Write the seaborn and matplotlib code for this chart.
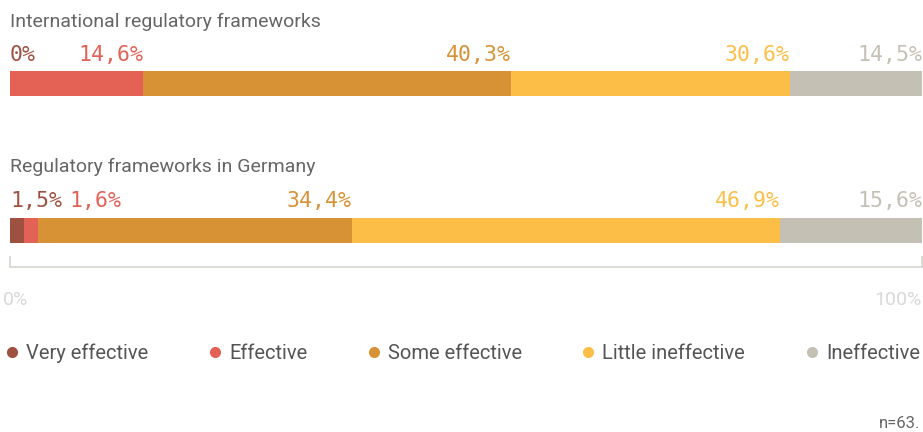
import matplotlib
matplotlib.use("Agg")
import matplotlib.pyplot as plt
from matplotlib.lines import Line2D
import matplotlib.transforms as mtransforms
import seaborn as sns
import pandas as pd
import numpy as np

groups = ["International regulatory frameworks", "Regulatory frameworks in Germany"]
levels = ["Very effective", "Effective", "Some effective", "Little ineffective", "Ineffective"]
intl_values = [0.0, 14.6, 40.3, 30.6, 14.5]
germany_values = [1.5, 1.6, 34.4, 46.9, 15.6]
value_labels = [["0%", "14,6%", "40,3%", "30,6%", "14,5%"],
                ["1,5%", "1,6%", "34,4%", "46,9%", "15,6%"]]
colors = ["#9E5140", "#E46156", "#D89236", "#FDBE48", "#C4C1B4"]
x_ticks = [0, 100]
x_ticklabels = ["0%", "100%"]
note = "n=63."

sns.set_theme(style="white")
plt.rcParams['font.family'] = ['Roboto', 'DejaVu Sans']

W, H, DPI = 923, 432, 100
fig = plt.figure(figsize=(W / DPI, H / DPI), dpi=DPI)

def px(x0, y0, x1, y1):
    return [x0 / W, 1 - y1 / H, (x1 - x0) / W, (y1 - y0) / H]

ax = fig.add_axes(px(10, 60, 922, 267))

values = np.array([intl_values, germany_values])
cum = np.cumsum(values, axis=1)
df = pd.DataFrame(cum, columns=levels)
df["group"] = groups

# draw cumulative totals, largest first so smaller ones overlay on the left
for i in range(len(levels) - 1, -1, -1):
    sns.barplot(data=df, x=levels[i], y="group", orient="h", color=colors[i],
                width=0.17, linewidth=0, saturation=1, ax=ax)

ax.set_xlim(0, 100)
ax.set_ylim(1.248, -0.16)
ax.set_xlabel("")
ax.set_ylabel("")
ax.set_yticks([])
for s in ["top", "left", "right"]:
    ax.spines[s].set_visible(False)
ax.spines["bottom"].set_color("#D6D4CD")
ax.spines["bottom"].set_linewidth(1.2)
ax.set_xticks(x_ticks)
ax.set_xticklabels(x_ticklabels)
ax.tick_params(axis="x", bottom=True, direction="in", length=8, width=1.2, color="#D6D4CD",
               pad=17, labelsize=14, labelcolor="#D9D9D9")
tl = ax.get_xticklabels()
tl[0].set_ha("left")
tl[-1].set_ha("right")
tl[0].set_transform(tl[0].get_transform() + mtransforms.ScaledTranslation(-7 / DPI, 0, fig.dpi_scale_trans))

# titles
title_baselines = [27, 172]
for g, yb in zip(groups, title_baselines):
    fig.text(10 / W, 1 - yb / H, g, fontsize=14, color="#666666", va="baseline", ha="left")

# value labels
fig.canvas.draw()
renderer = fig.canvas.get_renderer()
gap = 7
label_baselines = [61, 207]
axleft = ax.transData.transform((0, 0))[0]
for r in range(2):
    prev_right = axleft - gap
    for i in range(len(levels)):
        xend = ax.transData.transform((cum[r, i], 0))[0]
        t = fig.text(0, 0, value_labels[r][i], fontsize=15.5, color=colors[i],
                     family=["DejaVu Sans Mono"], ha="right", va="baseline")
        w = t.get_window_extent(renderer).width
        if xend - w < prev_right + gap:
            xend = prev_right + gap + w
        t.set_position((xend / W, 1 - label_baselines[r] / H))
        prev_right = xend

# legend
handles = [Line2D([0], [0], marker="o", linestyle="", markersize=8,
                  markerfacecolor=c, markeredgewidth=0) for c in colors]
fig.legend(handles, levels, loc="center left", bbox_to_anchor=(4 / W, 1 - 353 / H),
           ncol=5, frameon=False, fontsize=14.5, handlelength=0.8, handletextpad=0.3,
           columnspacing=2.9, borderpad=0, borderaxespad=0, labelcolor="#555555")

fig.text(920 / W, 1 - 423 / H, note, fontsize=12, color="#666666", ha="right", va="center")

fig.savefig("out.png", dpi=DPI)
